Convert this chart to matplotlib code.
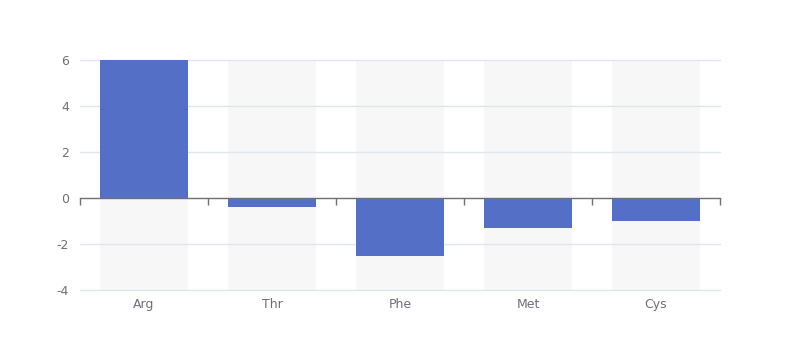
import matplotlib.pyplot as plt
import numpy as np

plt.rcParams["axes.unicode_minus"] = False

categories = ["Arg", "Thr", "Phe", "Met", "Cys"]
values = [6, -0.4, -2.5, -1.3, -1.0]
y_ticks = [-4, -2, 0, 2, 4, 6]

BAR = "#5470c6"
BG = "#f7f7f7"
GRID = "#e0e6f1"
AXIS = "#6e7079"

fig = plt.figure(figsize=(8, 3.6), dpi=100)
ax = fig.add_axes([0.1, 70 / 360, 0.8, 230 / 360])

x = np.arange(len(categories))
ymin, ymax = y_ticks[0], y_ticks[-1]

# background bars spanning the full value range
ax.bar(x, ymax - ymin, bottom=ymin, width=0.69, color=BG, zorder=1)
ax.bar(x, values, width=0.69, color=BAR, zorder=3)

ax.set_xlim(-0.5, len(categories) - 0.5)
ax.set_ylim(ymin, ymax)

# grid sits above the background bars, below the value bars
for y in y_ticks:
    if y != 0:
        ax.axhline(y, color=GRID, lw=1, zorder=2, clip_on=False)

ax.set_yticks(y_ticks)
ax.set_xticks(x)
ax.set_xticklabels(categories)
ax.tick_params(axis="both", length=0, colors=AXIS, labelsize=9)
ax.tick_params(axis="y", pad=8)
ax.tick_params(axis="x", pad=6)
for s in ax.spines.values():
    s.set_visible(False)

# axis line at zero with ticks at category boundaries
zero_frac = (0 - ymin) / (ymax - ymin)
sec = ax.secondary_xaxis(zero_frac)
sec.set_xticks(np.arange(len(categories) + 1) - 0.5)
sec.set_xticklabels([])
sec.tick_params(axis="x", length=5, width=1, color=AXIS, direction="out")
sec.spines["bottom"].set_color(AXIS)
sec.spines["bottom"].set_linewidth(1)
sec.set_zorder(5)

fig.savefig("out.png", dpi=100)
